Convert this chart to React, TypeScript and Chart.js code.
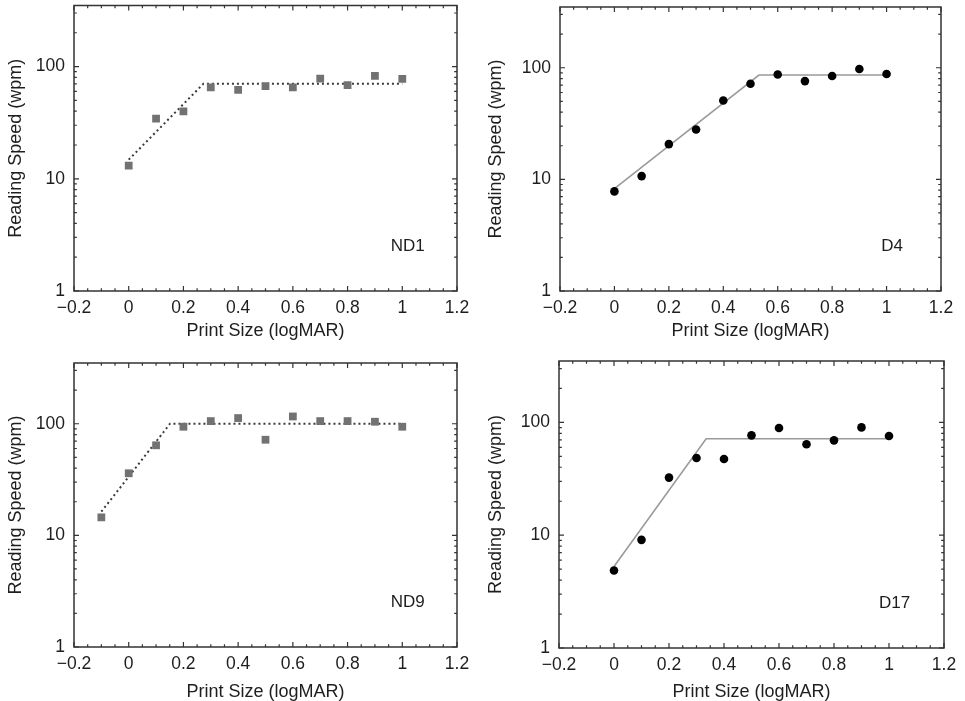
import React, { useEffect, useRef } from "react";
import { Chart, registerables } from "chart.js";
Chart.register(...registerables);

// ---------- data ----------
const printSize = [0, 0.1, 0.2, 0.3, 0.4, 0.5, 0.6, 0.7, 0.8, 0.9, 1.0];
const printSizeND9 = [-0.1, 0, 0.1, 0.2, 0.3, 0.4, 0.5, 0.6, 0.7, 0.8, 0.9, 1.0];

const nd1Speed = [13.1, 34.3, 39.9, 65.1, 62.1, 66.9, 65.1, 78.2, 68.3, 82.6, 77.7];
const nd1FitX = [0, 0.273, 1.0];
const nd1FitY = [14.8, 70.2, 70.2];

const d4Speed = [7.8, 10.7, 20.7, 28.0, 50.9, 71.9, 87.1, 75.9, 84.2, 97.3, 87.8];
const d4FitX = [0, 0.531, 1.0];
const d4FitY = [8.27, 86.0, 86.0];

const nd9Speed = [14.5, 36.0, 64.1, 94.0, 105.6, 112.4, 71.9, 116.2, 105.6, 105.6, 104.2, 94.0];
const nd9FitX = [-0.1, 0.151, 1.0];
const nd9FitY = [16.3, 100, 100];

const d17Speed = [4.87, 9.09, 32.4, 48.3, 47.4, 76.7, 89.1, 63.9, 69.3, 90.3, 75.7];
const d17FitX = [0, 0.335, 1.0];
const d17FitY = [5.28, 71.7, 71.7];

const xTicks = [-0.2, 0, 0.2, 0.4, 0.6, 0.8, 1.0, 1.2];
const yTicks = [1, 10, 100];
const xMin = -0.2;
const xMax = 1.2;
const yMin = 1;
const yMax = 350;
const xTitle = "Print Size (logMAR)";
const yTitle = "Reading Speed (wpm)";
const panelLabelX = 1.02;
const panelLabelY = 2.5;

// ---------- styling ----------
const FONT = '"Liberation Sans", Arial, Helvetica, sans-serif';
const TEXT = "#1e1e1e";
const FRAME = "#333333";

const fmtX = (v: number) => {
  if (Math.abs(v) < 1e-9) return "0";
  const s = String(Math.round(v * 10) / 10);
  return s.startsWith("-") ? "\u2212" + s.slice(1) : s;
};

const framePlugin = {
  id: "frame",
  afterDraw(chart: any, _args: any, opts: any) {
    const { ctx, chartArea } = chart;
    const xs = chart.scales.x;
    const ys = chart.scales.y;
    const { left, right, top, bottom } = chartArea;
    ctx.save();
    ctx.strokeStyle = FRAME;
    ctx.lineWidth = 1.5;
    ctx.strokeRect(left, top, right - left, bottom - top);

    ctx.lineWidth = 1.2;
    ctx.beginPath();
    // x ticks (inward, top & bottom)
    for (let i = 0; i <= 28; i++) {
      const v = xMin + i * 0.05;
      const px = xs.getPixelForValue(v);
      const major = i % 4 === 0;
      const len = major ? 5 : 2.8;
      ctx.moveTo(px, bottom);
      ctx.lineTo(px, bottom - len);
      ctx.moveTo(px, top);
      ctx.lineTo(px, top + len);
    }
    // y ticks (inward, left & right)
    const yVals: number[] = [];
    for (let d = 1; d <= 100; d *= 10) {
      for (let m = 1; m <= 9; m++) {
        const v = d * m;
        if (v <= yMax) yVals.push(v);
      }
    }
    yVals.forEach((v) => {
      const py = ys.getPixelForValue(v);
      const major = yTicks.includes(v);
      const len = major ? 5 : 2.8;
      ctx.moveTo(left, py);
      ctx.lineTo(left + len, py);
      ctx.moveTo(right, py);
      ctx.lineTo(right - len, py);
    });
    ctx.stroke();

    if (opts && opts.label) {
      ctx.fillStyle = TEXT;
      ctx.font = `17px ${FONT}`;
      ctx.textAlign = "center";
      ctx.textBaseline = "middle";
      ctx.fillText(opts.label, xs.getPixelForValue(panelLabelX), ys.getPixelForValue(panelLabelY));
    }
    ctx.restore();
  },
};

type PanelProps = {
  left: number;
  top: number;
  width: number;
  height: number;
  plot: { l: number; r: number; t: number; b: number };
  xs: number[];
  ys: number[];
  fitX: number[];
  fitY: number[];
  kind: "square" | "circle";
  label: string;
};

function Panel(p: PanelProps) {
  const ref = useRef<HTMLCanvasElement | null>(null);
  useEffect(() => {
    if (!ref.current) return;
    const square = p.kind === "square";
    const chart = new Chart(ref.current, {
      type: "scatter",
      data: {
        datasets: [
          {
            data: p.xs.map((x, i) => ({ x, y: p.ys[i] })),
            pointStyle: square ? "rect" : "circle",
            pointRadius: square ? 5.5 : 4.3,
            backgroundColor: square ? "#727272" : "#000000",
            borderWidth: 0,
            order: 1,
          } as any,
          {
            data: p.fitX.map((x, i) => ({ x, y: p.fitY[i] })),
            showLine: true,
            pointRadius: 0,
            borderColor: square ? "#3a3a3a" : "#9a9a9a",
            borderWidth: square ? 2 : 1.6,
            borderDash: square ? [2, 3] : [],
            borderCapStyle: "butt",
            fill: false,
            order: 2,
          } as any,
        ],
      },
      options: {
        responsive: false,
        maintainAspectRatio: false,
        animation: false,
        events: [],
        layout: { padding: { left: 0, right: p.width - p.plot.r, top: p.plot.t, bottom: 0 } },
        plugins: {
          legend: { display: false },
          tooltip: { enabled: false },
          frame: { label: p.label },
        } as any,
        scales: {
          x: {
            type: "linear",
            min: xMin,
            max: xMax,
            grid: { display: false, drawTicks: false },
            border: { display: false },
            afterBuildTicks: (s: any) => {
              s.ticks = xTicks.map((v) => ({ value: v }));
            },
            ticks: {
              callback: (v: any) => fmtX(Number(v)),
              color: TEXT,
              font: { family: FONT, size: 17.5 },
              padding: 7,
              maxRotation: 0,
              autoSkip: false,
            },
            title: {
              display: true,
              text: xTitle,
              color: TEXT,
              font: { family: FONT, size: 18 },
              padding: { top: 0, bottom: -2 },
            },
            afterFit: (s: any) => {
              s.height = p.height - p.plot.b;
              s.paddingLeft = 0;
              s.paddingRight = 0;
            },
          },
          y: {
            type: "logarithmic",
            min: yMin,
            max: yMax,
            grid: { display: false, drawTicks: false },
            border: { display: false },
            afterBuildTicks: (s: any) => {
              s.ticks = yTicks.map((v) => ({ value: v, major: true }));
            },
            ticks: {
              callback: (v: any) => String(v),
              color: TEXT,
              font: { family: FONT, size: 17.5 },
              padding: 9,
              autoSkip: false,
            },
            title: {
              display: true,
              text: yTitle,
              color: TEXT,
              font: { family: FONT, size: 18 },
              padding: { top: 5, bottom: 0 },
            },
            afterFit: (s: any) => {
              s.width = p.plot.l;
              s.paddingTop = 0;
              s.paddingBottom = 0;
            },
          },
        },
      },
      plugins: [framePlugin as any],
    });
    return () => chart.destroy();
  }, []);
  return (
    <canvas
      ref={ref}
      width={p.width}
      height={p.height}
      style={{ position: "absolute", left: p.left, top: p.top, width: p.width, height: p.height }}
    />
  );
}

export default function App() {
  return (
    <div style={{ position: "absolute", left: 0, top: 0, width: 965, height: 701, background: "#ffffff" }}>
      <Panel
        left={0}
        top={0}
        width={480}
        height={340}
        plot={{ l: 74, r: 457, t: 5, b: 291 }}
        xs={printSize}
        ys={nd1Speed}
        fitX={nd1FitX}
        fitY={nd1FitY}
        kind="square"
        label="ND1"
      />
      <Panel
        left={480}
        top={0}
        width={485}
        height={340}
        plot={{ l: 80, r: 461, t: 7, b: 291 }}
        xs={printSize}
        ys={d4Speed}
        fitX={d4FitX}
        fitY={d4FitY}
        kind="circle"
        label="D4"
      />
      <Panel
        left={0}
        top={340}
        width={480}
        height={361}
        plot={{ l: 74, r: 457, t: 23, b: 307 }}
        xs={printSizeND9}
        ys={nd9Speed}
        fitX={nd9FitX}
        fitY={nd9FitY}
        kind="square"
        label="ND9"
      />
      <Panel
        left={480}
        top={340}
        width={485}
        height={361}
        plot={{ l: 79, r: 464, t: 21, b: 308 }}
        xs={printSize}
        ys={d17Speed}
        fitX={d17FitX}
        fitY={d17FitY}
        kind="circle"
        label="D17"
      />
    </div>
  );
}
